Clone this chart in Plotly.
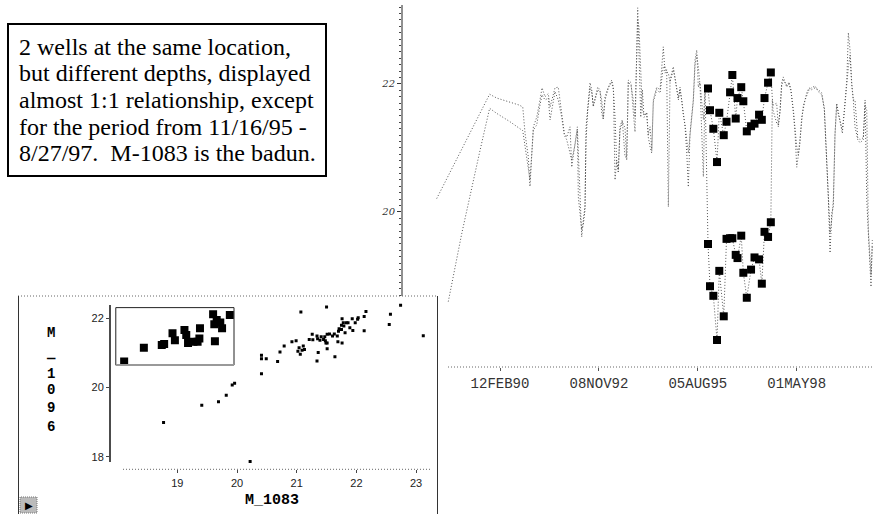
import plotly.graph_objects as go

W, H = 873, 514

# ---------------- time series: M_1096 and M_1083 water levels ----------------
dates = [
    "1988-05-13", "1988-09-07", "1989-01-22", "1989-07-26", "1989-10-30", "1990-01-10",
    "1990-05-24", "1990-08-26", "1990-09-30", "1990-10-23", "1990-11-25", "1990-12-12",
    "1991-01-15", "1991-02-18", "1991-03-23", "1991-04-13", "1991-05-13", "1991-06-15",
    "1991-07-03", "1991-08-22", "1991-09-24", "1991-10-29", "1991-11-24", "1991-12-18",
    "1992-01-21", "1992-02-07", "1992-03-11", "1992-04-04", "1992-04-14", "1992-05-01",
    "1992-05-18", "1992-06-03", "1992-06-20", "1992-07-01", "1992-07-18", "1992-08-10",
    "1992-08-27", "1992-09-12", "1992-09-30", "1992-10-27", "1992-11-19", "1992-12-06", "1992-12-22",
    "1993-01-09", "1993-02-11", "1993-03-17", "1993-04-03", "1993-04-20", "1993-05-07",
    "1993-05-23", "1993-06-09", "1993-07-02", "1993-07-30", "1993-08-16", "1993-09-01",
    "1993-09-29", "1993-10-22", "1993-11-08", "1993-12-05", "1993-12-18",
    "1994-01-05", "1994-01-21", "1994-02-07", "1994-03-06", "1994-03-22", "1994-04-09",
    "1994-04-26", "1994-05-12", "1994-06-15", "1994-07-19", "1994-08-21", "1994-09-07",
    "1994-09-24", "1994-10-11", "1994-10-28", "1994-11-30", "1994-12-17",
    "1995-01-04", "1995-01-20", "1995-02-06", "1995-02-23", "1995-03-11", "1995-03-29",
    "1995-04-15", "1995-05-01", "1995-05-18", "1995-06-04", "1995-06-20", "1995-07-08",
    "1995-07-25", "1995-08-10", "1995-08-27", "1995-09-30", "1995-10-17",
    # period of disagreement (squares)
    "1995-11-16", "1995-12-06", "1996-01-09", "1996-02-15", "1996-03-09", "1996-04-23",
    "1996-05-21", "1996-06-26", "1996-07-19", "1996-08-22", "1996-09-09", "1996-10-17",
    "1996-11-07", "1996-12-12", "1997-01-24", "1997-02-28", "1997-04-15", "1997-05-13",
    "1997-06-09", "1997-07-15", "1997-08-12",
    # after
    "1997-08-27", "1997-09-03", "1997-10-10", "1997-10-27", "1997-11-13", "1997-11-30", "1997-12-16",
    "1998-01-20", "1998-02-12", "1998-03-04", "1998-03-28", "1998-04-14", "1998-05-01",
    "1998-05-17", "1998-06-03", "1998-06-20", "1998-07-07", "1998-07-24", "1998-08-10",
    "1998-09-02", "1998-09-29", "1998-11-02", "1998-12-05",
    "1999-01-09", "1999-02-04", "1999-02-18", "1999-03-06", "1999-03-17", "1999-04-03",
    "1999-04-20", "1999-05-06", "1999-05-23", "1999-06-09", "1999-06-26", "1999-07-23",
    "1999-08-05", "1999-08-25", "1999-09-19", "1999-10-05", "1999-10-22", "1999-11-08",
    "1999-11-24", "1999-12-11",
    "2000-01-08", "2000-01-31", "2000-03-04", "2000-03-22", "2000-04-08", "2000-04-24",
    "2000-05-21", "2000-06-03",
]

m1096 = [
    20.21, None, None, None, 21.84, 21.78, 21.72, 21.67, 21.64, 21.23, 20.86, 20.40,
    21.33, 21.48, 21.75, 21.94, 21.80, 21.85, 21.64, 21.94, 21.95, 21.48, 21.23, 21.17,
    21.33, 20.70, 21.08, 21.33, 20.92, 20.19, 19.61, 19.88, 20.08, 21.33, 21.64, 22.02,
    21.91, 21.64, 21.78, 21.95, 21.91, 21.55, 21.44,
    21.80, 21.95, 22.06, 21.95, 20.50, 20.81, 20.61, 21.33, 21.44, 20.86, 20.86, 22.06,
    22.02, 21.55, 21.25, 23.19, 22.27,
    21.48, 21.91, 21.48, 21.55, 21.17, 21.02, 20.92, 21.75, 21.95, 21.91, 22.58, 22.17,
    22.22, 20.08, 22.06, 22.27, 22.11,
    21.95, 21.75, 21.95, 21.75, 21.48, 21.33, 20.92, 20.39, 21.23, 21.48, 21.75, 22.38,
    22.53, 21.95, 22.02, 21.44, 21.91,
    21.93, 21.59, 21.30, 20.78, 21.55, 21.20, 21.41, 21.87, 22.14, 21.46, 21.78, 21.95,
    21.73, 21.26, 21.34, 21.38, 21.52, 21.44, 21.78, 22.02, 22.18,
    21.78, 21.67, 21.70, 21.33, 21.59, 22.02, 22.11,
    21.95, 22.03, 21.91, 21.55, 21.23, 20.70, 20.92, 21.08, 21.48, 21.64, 21.75, 21.86,
    21.94, 21.91, 21.94, 21.91,
    21.86, 21.59, 21.13, 20.39, 20.19, 19.36, 19.98, 20.08, 21.23, 21.70, 21.55, 21.33,
    21.23, 21.59, 22.06, 22.80, 22.53, 22.02, 21.75, 21.33,
    21.13, 21.08, 21.13, 21.75, 20.19, 19.67, 18.83, 19.56,
]

m1083 = [
    None, 18.60, 19.67, 20.97, 21.62, 21.54, 21.41, None, 21.27, 21.05, 20.66, 20.50,
    21.28, 21.36, 21.67, 21.83, 21.75, 21.78, 21.44, 21.88, 21.75, 21.48, 21.20, 21.13,
    20.92, 20.81, 21.05, 21.28, 20.23, 19.92, 19.72, 19.80, 20.03, 21.13, 21.59, 21.94,
    21.88, 21.67, 21.75, 21.91, 21.88, 21.75, 21.47,
    21.75, 21.94, 22.03, 21.91, 21.48, 20.73, 20.66, 21.28, 21.41, 21.31, 20.81, 22.03,
    21.97, 21.75, 21.48, 23.00, 22.89,
    22.27, 21.59, 21.52, 21.55, 21.20, 21.33, 20.97, 21.72, 21.91, 21.86, 22.27, 22.27,
    22.19, 22.17, 22.03, 22.22, 22.09,
    21.94, 21.78, 21.91, 21.75, 21.52, 21.36, 21.13, 20.92, 21.20, 21.47, 21.72, 22.30,
    22.45, 22.27, 21.98, 20.55, 21.91,
    19.50, 18.84, 18.69, 18.00, 19.08, 18.37, 19.58, 19.59, 19.59, 19.33, 19.28, 19.63,
    19.05, 18.66, 19.10, 19.29, 19.26, 18.88, 19.69, 19.61, 19.84,
    21.75, 21.59, 21.39, 21.36, 21.56, 21.98, 22.06,
    21.98, 22.00, 21.88, 21.59, 21.28, 21.02, 20.89, 21.13, 21.47, 21.67, 21.75, 21.83,
    21.91, 21.94, 21.97, 21.88,
    21.83, 21.63, 21.20, 20.70, 20.27, 19.67, 19.88, 20.19, 21.20, 21.67, 21.52, 21.36,
    21.28, 21.56, 22.03, 22.27, 22.45, 21.98, 21.75, 21.75,
    21.16, 21.13, 21.16, 21.67, 21.59, 19.72, 19.02, 19.48,
]
assert len(dates) == len(m1096) == len(m1083), (len(dates), len(m1096), len(m1083))

badun_start, badun_end = "1995-11-16", "1997-08-12"

ts_tick_dates = ["1990-02-12", "1992-11-08", "1995-08-05", "1998-05-01"]
ts_tick_text = ["12FEB90", "08NOV92", "05AUG95", "01MAY98"]
ts_y_ticks = [20, 22]

# ---------------- scatter: M_1083 vs M_1096 ----------------
sc_x = [21.07, 21.50, 22.74, 22.16, 22.57, 22.13, 22.03, 22.02, 21.93, 21.76,
        21.78, 21.83, 21.86, 21.98, 21.75, 21.79, 21.89, 21.71, 21.75, 21.70,
        21.94, 22.13, 21.81, 21.55, 21.63, 22.55, 23.12, 21.26, 21.34, 21.41,
        21.47, 21.51, 21.60, 21.68, 21.21, 21.27, 21.35, 21.39, 21.45, 21.48,
        21.49, 21.51, 21.69, 21.76, 20.92, 20.99, 21.04, 21.11, 21.13, 21.09,
        21.02, 21.06, 20.79, 20.72, 21.51, 21.36, 21.64, 20.41, 20.41, 20.49,
        20.68, 21.34, 20.41, 19.96, 19.92, 19.82, 19.69, 19.41, 18.77, 20.22]
sc_y = [22.18, 22.33, 22.38, 22.20, 22.12, 22.05, 22.02, 21.97, 21.99, 21.99,
        21.87, 21.87, 21.87, 21.87, 21.80, 21.78, 21.73, 21.70, 21.68, 21.63,
        21.65, 21.64, 21.58, 21.55, 21.55, 21.82, 21.50, 21.54, 21.49, 21.47,
        21.47, 21.54, 21.49, 21.49, 21.39, 21.38, 21.41, 21.37, 21.39, 21.35,
        21.29, 21.29, 21.32, 21.29, 21.32, 21.35, 21.15, 21.20, 21.10, 21.08,
        21.05, 20.96, 21.20, 21.03, 21.12, 21.01, 20.89, 20.93, 20.83, 20.83,
        20.75, 20.77, 20.40, 20.12, 20.07, 19.78, 19.59, 19.49, 18.99, 17.86]
sel_x = [18.11, 18.44, 18.74, 18.78, 18.92, 18.96, 19.12, 19.15, 19.18, 19.27,
         19.34, 19.37, 19.38, 19.60, 19.62, 19.66, 19.72, 19.75, 19.63, 19.88]
sel_y = [20.75, 21.15, 21.23, 21.26, 21.57, 21.37, 21.66, 21.52, 21.29, 21.32,
         21.32, 21.42, 21.71, 22.12, 21.83, 21.95, 21.88, 21.71, 21.34, 22.10]
sel_box_x = [17.97, 19.95]
sel_box_y = [20.65, 22.31]
sc_x_ticks = [19, 20, 21, 22, 23]
sc_y_ticks = [18, 20, 22]

note_lines = [
    "2 wells at the same location,",
    "but different depths, displayed",
    "almost 1:1 relationship, except",
    "for the period from 11/16/95 -",
    "8/27/97.\u00a0 M-1083 is the badun.",
]
y_label_chars = ["M", "\u2014", "1", "0", "9", "6"]


def px(x):
    return x / W


def py(y):
    return 1 - y / H


bad_idx = [i for i, d in enumerate(dates) if badun_start <= d <= badun_end]

fig = go.Figure()
line_style = dict(color="#555555", width=1, dash="1px,2px")
fig.add_trace(go.Scatter(x=dates, y=m1096, mode="lines", line=line_style,
                         connectgaps=True, name="M_1096", xaxis="x", yaxis="y"))
fig.add_trace(go.Scatter(x=dates, y=m1083, mode="lines", line=line_style,
                         connectgaps=True, name="M_1083", xaxis="x", yaxis="y"))
for series in (m1096, m1083):
    fig.add_trace(go.Scatter(
        x=[dates[i] for i in bad_idx], y=[series[i] for i in bad_idx],
        mode="markers", marker=dict(symbol="square", size=8, color="black"),
        xaxis="x", yaxis="y"))

fig.add_trace(go.Scatter(x=sc_x, y=sc_y, mode="markers",
                         marker=dict(symbol="square", size=3, color="black"),
                         xaxis="x2", yaxis="y2"))
fig.add_trace(go.Scatter(x=sel_x, y=sel_y, mode="markers",
                         marker=dict(symbol="square", size=8, color="black"),
                         xaxis="x2", yaxis="y2"))

minor_vals = [round(18.7 + 0.1 * i, 1) for i in range(46)]

fig.update_layout(
    width=W, height=H, margin=dict(l=0, r=0, t=0, b=0),
    paper_bgcolor="white", plot_bgcolor="rgba(0,0,0,0)", showlegend=False,
    xaxis=dict(domain=[px(402), 1], range=["1987-05-28", "2000-06-10"], type="date",
               anchor="y", showline=False, showgrid=False, zeroline=False,
               tickmode="array", tickvals=ts_tick_dates, ticktext=ts_tick_text,
               ticks="outside", ticklen=3, tickcolor="#555", ticklabelstandoff=0,
               tickfont=dict(family="Liberation Mono", size=14, color="#333")),
    yaxis=dict(domain=[py(367), py(5)], range=[17.578, 23.234], anchor="x",
               showline=False, showgrid=False, zeroline=False,
               tickmode="array", tickvals=ts_y_ticks, ticks="outside", ticklen=4,
               tickcolor="#333",
               tickfont=dict(family="DejaVu Serif", size=10, color="#333", style="italic"),
               minor=dict(tickmode="array", tickvals=minor_vals, ticks="outside",
                          ticklen=2, tickcolor="#444")),
    xaxis2=dict(domain=[px(110), px(432)], range=[17.873, 23.266], anchor="y2",
                showline=False, showgrid=False, zeroline=False,
                tickmode="array", tickvals=sc_x_ticks, ticks="outside", ticklen=3,
                tickcolor="#444",
                tickfont=dict(family="Liberation Sans", size=11, color="#222")),
    yaxis2=dict(domain=[py(469.3), py(300)], range=[17.636, 22.53], anchor="x2",
                showline=False, showgrid=False, zeroline=False,
                tickmode="array", tickvals=sc_y_ticks, ticks="outside", ticklen=3,
                tickcolor="#444",
                tickfont=dict(family="Liberation Sans", size=11, color="#222")),
)

shapes = [
    # note box
    dict(type="rect", xref="paper", yref="paper", x0=px(8), x1=px(326), y0=py(24), y1=py(176),
         line=dict(color="black", width=2), fillcolor="white"),
    # time-series y axis and dotted x axis
    dict(type="line", xref="paper", yref="paper", x0=px(402), x1=px(402), y0=py(5), y1=py(296),
         line=dict(color="#222", width=1)),
    dict(type="line", xref="paper", yref="paper", x0=px(448), x1=1, y0=py(367), y1=py(367),
         line=dict(color="#666", width=1, dash="1px,2px")),
    # scatter frame
    dict(type="line", xref="paper", yref="paper", x0=px(18), x1=px(437.5), y0=py(296), y1=py(296),
         line=dict(color="#666", width=1, dash="1px,2px")),
    dict(type="line", xref="paper", yref="paper", x0=px(18.5), x1=px(18.5), y0=py(296), y1=0,
         line=dict(color="#333", width=1)),
    dict(type="line", xref="paper", yref="paper", x0=px(437.5), x1=px(437.5), y0=py(296), y1=0,
         line=dict(color="#333", width=1)),
    # scatter axes
    dict(type="line", xref="paper", yref="paper", x0=px(110), x1=px(110), y0=py(305), y1=py(462),
         line=dict(color="#111", width=1.5)),
    dict(type="line", xref="paper", yref="paper", x0=px(123), x1=px(430), y0=py(469.3), y1=py(469.3),
         line=dict(color="#666", width=1, dash="1px,2px")),
    # selection rectangle
    dict(type="rect", xref="x2", yref="y2", x0=sel_box_x[0], x1=sel_box_x[1],
         y0=sel_box_y[0], y1=sel_box_y[1], line=dict(color="#222", width=1)),
    dict(type="line", xref="x2", yref="y2", x0=sel_box_x[0], x1=sel_box_x[1],
         y0=sel_box_y[0], y1=sel_box_y[0], line=dict(color="#999", width=2)),
    # small tool icon
    dict(type="rect", xref="paper", yref="paper", x0=px(20), x1=px(37), y0=py(513), y1=py(497),
         fillcolor="#bbbbbb", line=dict(color="#777", width=1, dash="1px,1px")),
]
fig.update_layout(shapes=shapes)

annotations = []
for line_text, yy in zip(note_lines, [47, 73.5, 100, 126.5, 153]):
    annotations.append(dict(x=px(17), y=py(yy), xref="paper", yref="paper",
                            xanchor="left", yanchor="middle", text=line_text,
                            showarrow=False,
                            font=dict(family="Liberation Serif", size=24, color="black")))
annotations.append(dict(x=px(272), y=py(500), xref="paper", yref="paper",
                        xanchor="center", yanchor="middle", text="<b>M_1083</b>",
                        showarrow=False,
                        font=dict(family="Liberation Mono", size=15, color="black")))
annotations.append(dict(x=px(28.5), y=py(505), xref="paper", yref="paper",
                        xanchor="center", yanchor="middle", text="\u25b6", showarrow=False,
                        font=dict(family="DejaVu Sans", size=10, color="black")))
for ch, yy in zip(y_label_chars, [333, 358, 374, 390, 408, 427]):
    annotations.append(dict(x=px(51), y=py(yy), xref="paper", yref="paper",
                            xanchor="center", yanchor="middle",
                            text="<b>%s</b>" % ch, showarrow=False,
                            font=dict(family="Liberation Mono", size=14, color="black")))
fig.update_layout(annotations=annotations)

fig.write_html("out.html")
